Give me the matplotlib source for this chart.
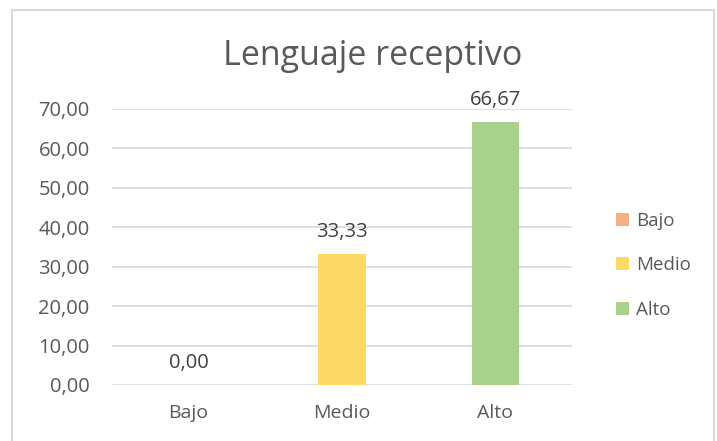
import matplotlib
matplotlib.use("Agg")
import matplotlib.pyplot as plt
from matplotlib.patches import Patch, Rectangle

# datos
categorias = ["Bajo", "Medio", "Alto"]
valores = [0.00, 33.33, 66.67]
colores = ["#F4B183", "#FFD966", "#A9D18E"]
yticks = [0, 10, 20, 30, 40, 50, 60, 70]

plt.rcParams["font.family"] = ["Open Sans", "DejaVu Sans"]
gris = "#595959"

fig = plt.figure(figsize=(7.17, 4.41), dpi=100)
ax = fig.add_axes([0.156, 0.127, 0.642, 0.626])

x = range(len(categorias))
ax.bar(x, valores, width=0.31, color=colores, zorder=3)

for xi, v in zip(x, valores):
    ax.text(xi, v + 3.0, f"{v:.2f}".replace(".", ","), ha="center", va="bottom",
            fontsize=14.5, color="#404040")

ax.set_xlim(-0.5, 2.5)
ax.set_ylim(0, 70)
ax.set_yticks(yticks)
ax.set_yticklabels([f"{t:.2f}".replace(".", ",") for t in yticks], fontsize=14.5, color=gris)
ax.set_xticks(list(x))
ax.set_xticklabels(categorias, fontsize=14, color=gris)
ax.tick_params(axis="x", length=0, pad=14)
ax.tick_params(axis="y", length=0, pad=16)
ax.grid(axis="y", color="#D9D9D9", linewidth=1.2, zorder=0)
for s in ax.spines.values():
    s.set_visible(False)

fig.text(0.52, 0.873, "Lenguaje receptivo", ha="center", va="center",
         fontsize=24.5, color=gris)

handles = [Patch(facecolor=c, label=l) for c, l in zip(colores, categorias)]
fig.legend(handles=handles, loc="center left", bbox_to_anchor=(0.835, 0.398),
           frameon=False, fontsize=13.5, labelcolor=gris, handlelength=0.7,
           handleheight=0.7, handletextpad=0.4, labelspacing=1.42)

# borde del gráfico
fig.patches.append(Rectangle((12 / 717, -0.05), 702 / 717, 1 - 10 / 441 + 0.05,
                             transform=fig.transFigure, fill=False,
                             edgecolor="#D9D9D9", linewidth=1.5))

fig.savefig("out.png", dpi=100)
